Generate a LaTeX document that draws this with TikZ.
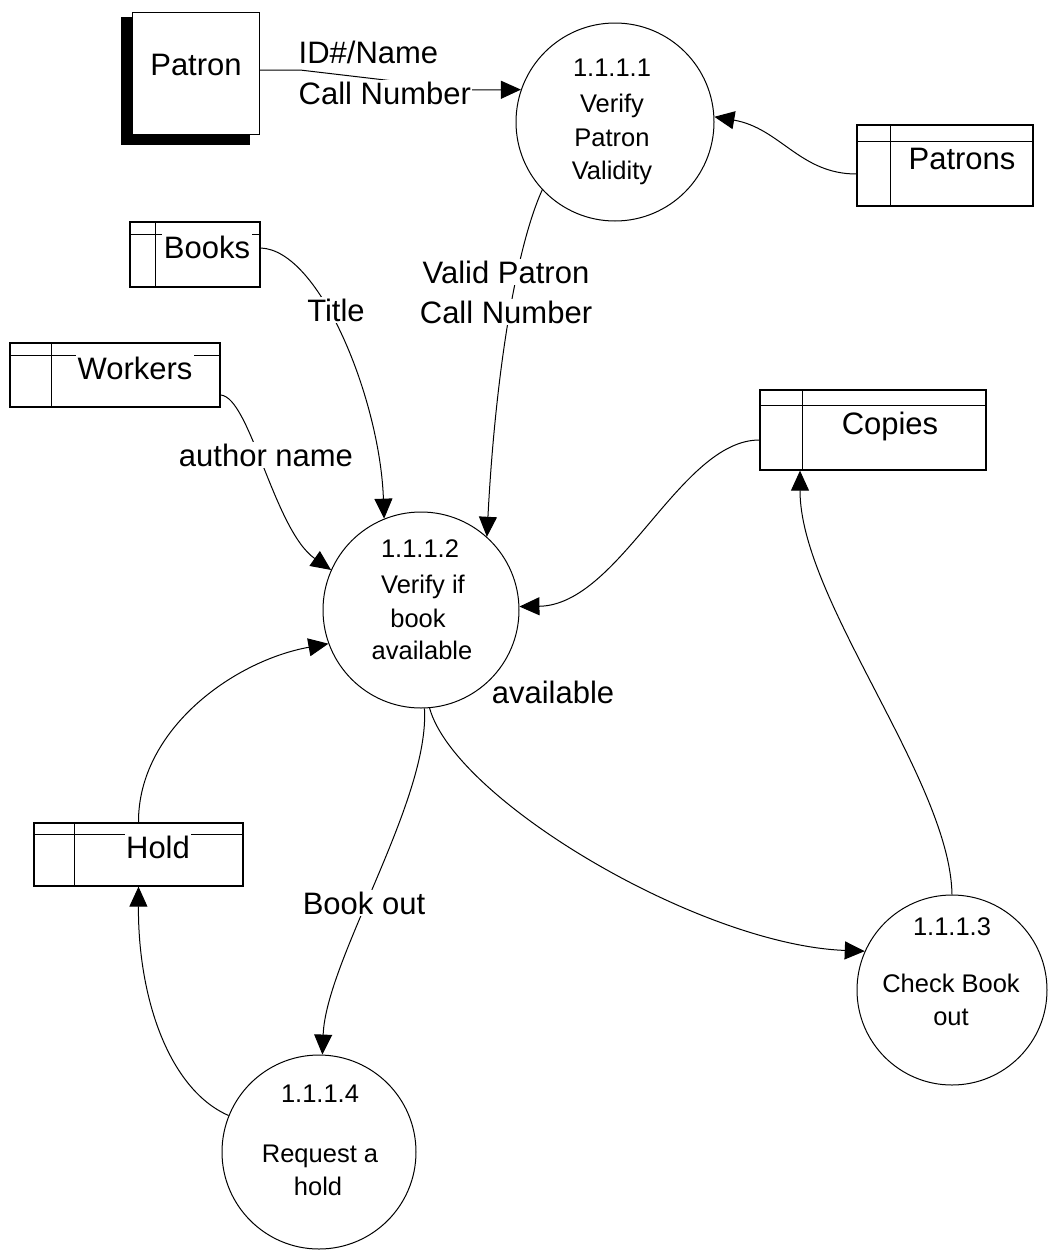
\documentclass[tikz,border=0pt]{standalone}
\usepackage{fontspec}
\setmainfont{Liberation Sans}
\usetikzlibrary{arrows.meta,calc}

\begin{document}
\begin{tikzpicture}[x=1pt,y=-1pt,
  proc/.style={circle, draw, line width=1pt, inner sep=0pt},
  store/.style={rectangle, draw, line width=1.3pt, inner sep=0pt},
  strip/.style={line width=1pt},
  flow/.style={line width=1pt, -{Triangle[length=20pt,width=18pt]}},
  lbl/.style={font=\fontsize{31}{37}\selectfont, inner sep=1.5pt, fill=white, anchor=base},
  ptxt/.style={font=\fontsize{25.5}{30}\selectfont, inner sep=0pt, anchor=base},
]
\useasboundingbox (0,0) rectangle (1048,1256);

% external entity with its drop shadow
\fill (121,17) rectangle (250,145);
\node[draw, fill=white, line width=1pt, minimum width=127pt, minimum height=122pt, inner sep=0pt] (patron) at (195.5,73) {};

% processes
\node[proc, minimum size=198pt] (p1) at (615,122) {};
\node[proc, minimum size=196pt] (p2) at (421,610) {};
\node[proc, minimum size=190pt] (p3) at (952,990) {};
\node[proc, minimum size=194pt] (p4) at (319,1152) {};

% data stores: box, header strip and id column
\node[store, minimum width=176pt, minimum height=81pt] (patrons) at (945,165.5) {};
\draw[strip] ([yshift=-17pt]patrons.north west) -- ([yshift=-17pt]patrons.north east);
\draw[strip] ([xshift=34pt]patrons.north west) -- ([xshift=34pt]patrons.south west);

\node[store, minimum width=130pt, minimum height=65pt] (books) at (195,254.5) {};
\draw[strip] ([yshift=-13pt]books.north west) -- ([yshift=-13pt]books.north east);
\draw[strip] ([xshift=26pt]books.north west) -- ([xshift=26pt]books.south west);

\node[store, minimum width=210pt, minimum height=64pt] (workers) at (115,375) {};
\draw[strip] ([yshift=-13pt]workers.north west) -- ([yshift=-13pt]workers.north east);
\draw[strip] ([xshift=42pt]workers.north west) -- ([xshift=42pt]workers.south west);

\node[store, minimum width=226pt, minimum height=80pt] (copies) at (873,430) {};
\draw[strip] ([yshift=-16pt]copies.north west) -- ([yshift=-16pt]copies.north east);
\draw[strip] ([xshift=43pt]copies.north west) -- ([xshift=43pt]copies.south west);

\node[store, minimum width=209pt, minimum height=63pt] (hold) at (138.5,854.5) {};
\draw[strip] ([yshift=-12pt]hold.north west) -- ([yshift=-12pt]hold.north east);
\draw[strip] ([xshift=41pt]hold.north west) -- ([xshift=41pt]hold.south west);

% data flows
\draw[flow] ([yshift=3pt]patron.east) -- (300,70) -- (470,90) -- (p1.161);
\draw[flow] ([yshift=-8.5pt]patrons.west) .. controls (800,174) and (780,128) .. (p1.3);
\draw[flow] (p1.223) .. controls (515,250) and (495,380) .. (p2.48);
\draw[flow] ([yshift=6.5pt]books.east) .. controls (320,250) and (380,400) .. (p2.112);
\draw[flow] ([yshift=-20pt]workers.east) .. controls (250,397) and (274,530) .. (p2.156);
\draw[flow] ([yshift=-10pt]copies.west) .. controls (680,440) and (620,605) .. (p2.2);
\draw[flow] (hold.north) .. controls (138,730) and (233,661) .. (p2.200);
\draw[flow] (p2.275) .. controls (455,800) and (700,945) .. (p3.156);
\draw[flow] (p2.272) .. controls (430,800) and (326,960) .. (p4.88);
\draw[flow] (p4.158) .. controls (170,1090) and (138,1000) .. (hold.south);
\draw[flow] (p3.north) .. controls (950,780) and (800,600) .. ([xshift=-73pt]copies.south);

% entity and store names
\node[lbl] (patronname) at (196,75) {Patron};
\node[lbl] (patronsname) at (962,169) {Patrons};
\node[lbl] (booksname) at (207,258) {Books};
\node[lbl] (workersname) at (135,379) {Workers};
\node[lbl] (copiesname) at (890,434) {Copies};
\node[lbl] (holdname) at (158,858) {Hold};

% flow labels
\node[lbl, anchor=base west] (idlbl) at (297,63) {ID\#/Name};
\node[lbl, anchor=base west] (calllbl) at (297,104) {Call Number};
\node[lbl] (validlbl) at (506,283) {Valid Patron};
\node[lbl] (validcall) at (506,323) {Call Number};
\node[lbl] (titlelbl) at (336,321) {Title};
\node[lbl] (authorlbl) at (266,466) {author name};
\node[lbl, fill=none] (availlbl) at (553,703) {available};
\node[lbl] (bookoutlbl) at (364,914) {Book out};

% process texts
\node[ptxt] (p1num) at (612,76) {1.1.1.1};
\node[ptxt] (p1a) at (612,112) {Verify};
\node[ptxt] (p1b) at (612,146) {Patron};
\node[ptxt] (p1c) at (612,179) {Validity};

\node[ptxt] (p2num) at (420,557) {1.1.1.2};
\node[ptxt] (p2a) at (423,593) {Verify if};
\node[ptxt] (p2b) at (418,627) {book};
\node[ptxt] (p2c) at (422,659) {available};

\node[ptxt] (p3num) at (952,935) {1.1.1.3};
\node[ptxt] (p3a) at (951,992) {Check Book};
\node[ptxt] (p3b) at (951,1025) {out};

\node[ptxt] (p4num) at (320,1102) {1.1.1.4};
\node[ptxt] (p4a) at (320,1162) {Request a};
\node[ptxt] (p4b) at (318,1195) {hold};
\end{tikzpicture}
\end{document}
